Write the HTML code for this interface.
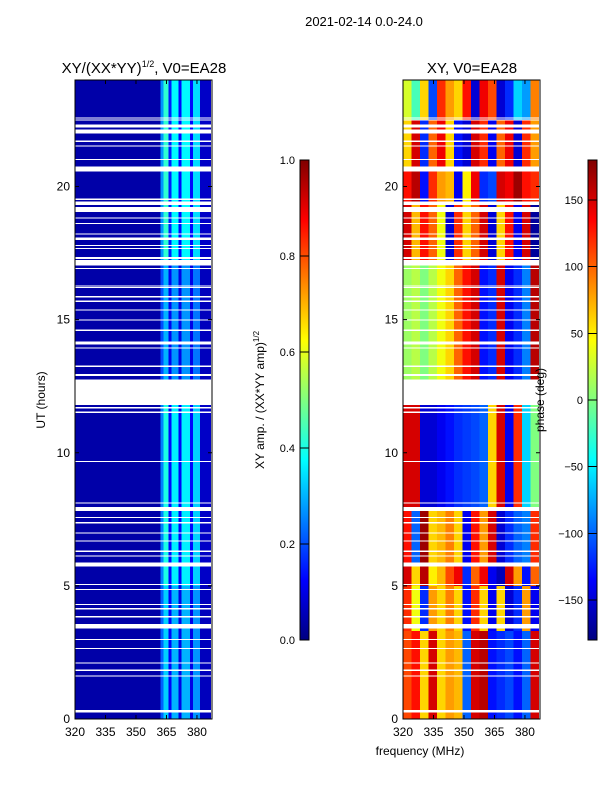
<!DOCTYPE html>
<html><head><meta charset="utf-8">
<style>
body{margin:0;background:#fff;}
svg{display:block;font-family:"Liberation Sans",sans-serif;}
</style></head>
<body>
<svg id="fig" width="600" height="800" viewBox="0 0 600 800" shape-rendering="crispEdges">
<text x="364" y="26" font-size="13" text-anchor="middle" shape-rendering="auto">2021-02-14 0.0-24.0</text>
<g id="left"></g>
<g id="right"></g>
<g id="cb1"></g>
<g id="cb2"></g>
<g id="axes" shape-rendering="auto"></g>
</svg>
<script>
// ---- data ----
const timeTicks=[0,5,10,15,20];
const freqTicks=[320,335,350,365,380];
const ampTicks=[0.0,0.2,0.4,0.6,0.8,1.0];
const phaseTicks=[-150,-100,-50,0,50,100,150];
const ampEdges=[320,362,363.5,366,367.5,371,372.5,376.5,378,381.5,387];
const ampSegStart=[0,5,11.8,12.75,17.2];
const ampSegEnd=[5,11.8,12.75,17.2,24];
const ampSegVals=[
 [0.04,0.22,0.33,0.12,0.3,0.1,0.3,0.1,0.27,0.06],
 [0.04,0.25,0.4,0.13,0.36,0.12,0.36,0.13,0.33,0.07],
 null,
 [0.04,0.2,0.3,0.11,0.27,0.1,0.27,0.1,0.24,0.06],
 [0.04,0.27,0.42,0.15,0.37,0.13,0.37,0.13,0.34,0.07]
];
const phaseEdges=[320,324.2,328.4,332.6,336.8,340.9,345.1,349.3,353.5,357.7,361.9,366.1,370.3,374.4,378.6,382.8,387];
const phaseSegStart=[0,3.3,5.0,5.8,7.9,11.8,12.75,17.2,19.3,20.6,22.5];
const phaseSegEnd=[3.3,5.0,5.8,7.9,11.8,12.75,17.2,19.3,20.6,22.5,24];
const phaseSegVals=[
 [110,130,60,150,60,80,70,-100,150,160,-130,-120,-110,-130,-100,150],
 [120,40,-120,80,60,90,60,-130,120,60,-140,60,-150,-120,80,-140],
 [150,60,160,50,70,110,140,-120,100,140,-140,-160,150,80,-130,100],
 [130,-100,170,60,70,90,60,-140,130,80,150,-150,-120,-100,-90,120],
 [150,150,-150,-150,-140,-130,-120,-115,-110,-100,60,150,-140,120,-60,0],
 null,
 [10,20,0,20,40,60,100,130,150,-130,-120,150,-140,-120,-90,160],
 [150,70,130,100,40,-150,120,60,100,150,-150,60,130,-140,150,-170],
 [130,160,-130,120,80,70,-140,50,140,-120,-110,150,140,170,130,120],
 [60,150,-120,100,140,60,-130,-150,150,120,-140,100,140,-150,120,80],
 [30,-20,60,-110,120,80,60,130,-150,140,110,-150,-120,-60,-80,90]
];
const gapStart=[0.24,1.59,1.81,2.09,2.62,2.97,3.4,3.82,4.12,4.28,4.85,5.03,5.72,6.1,6.28,6.66,6.97,7.35,7.54,7.82,8.1,9.65,11.5,11.67,12.88,13.23,13.92,14.07,14.58,14.96,15.34,15.67,15.84,16.19,16.24,16.9,17.03,17.27,17.65,17.77,17.99,18.2,18.59,18.8,19.05,19.3,19.5,20.56,21.0,21.5,21.68,22.0,22.22,22.48,22.56];
const gapEnd=  [0.34,1.63,1.85,2.13,2.66,3.01,3.57,3.86,4.16,4.32,4.89,5.07,5.88,6.14,6.32,6.7,7.01,7.39,7.58,7.97,8.14,9.69,11.54,11.71,12.95,13.27,13.96,14.17,14.62,15.0,15.38,15.71,15.88,16.23,16.28,16.94,17.24,17.36,17.69,17.81,18.09,18.24,18.63,18.84,19.23,19.43,19.54,20.75,21.04,21.54,21.72,22.15,22.33,22.52,22.6];

// ---- scales ----
const Y0=719,Y1=80;
const yS=h=>Y0-(h/24)*(Y0-Y1);
const fS=(x0)=>f=>x0+(f-320)*(137/67.4);
const xL=fS(75), xR=fS(403);
function jet(v){v=Math.max(0,Math.min(1,v));
 const c=t=>Math.round(255*Math.max(0,Math.min(1,t)));
 const r=c(Math.min(4*v-1.5,-4*v+4.5)),g=c(Math.min(4*v-0.5,-4*v+3.5)),b=c(Math.min(4*v+0.5,-4*v+2.5));
 return `rgb(${r},${g},${b})`;}
const NS="http://www.w3.org/2000/svg";
function mk(tag,attrs,parent){const e=document.createElementNS(NS,tag);for(const k in attrs)e.setAttribute(k,attrs[k]);parent.appendChild(e);return e;}

// ---- heatmaps ----
const L=document.getElementById('left'),R=document.getElementById('right');
ampSegStart.forEach((s,i)=>{const vals=ampSegVals[i];if(!vals)return;
 for(let j=0;j<vals.length;j++){
  const r=mk('rect',{x:xL(ampEdges[j]),y:yS(ampSegEnd[i]),width:xL(ampEdges[j+1])-xL(ampEdges[j]),height:yS(ampSegStart[i])-yS(ampSegEnd[i]),fill:jet(vals[j])},L);
  
  
 }});
phaseSegStart.forEach((s,i)=>{const vals=phaseSegVals[i];if(!vals)return;
 for(let j=0;j<vals.length;j++){
  const r=mk('rect',{x:xR(phaseEdges[j]),y:yS(phaseSegEnd[i]),width:xR(phaseEdges[j+1])-xR(phaseEdges[j]),height:yS(phaseSegStart[i])-yS(phaseSegEnd[i]),fill:jet((vals[j]+180)/360)},R);
  
  
 }});
gapStart.forEach((g,i)=>{
 [[L,75],[R,403]].forEach(([G,x0])=>{
  const r=mk('rect',{x:x0,y:yS(gapEnd[i]),width:137,height:Math.max(1,yS(g)-yS(gapEnd[i])),fill:'#fff'},G);
  
  
 });});

// ---- axes ----
const A=document.getElementById('axes');
[[75,'left'],[403,'right']].forEach(([x0,nm])=>{
 const f=fS(x0);
 const fr=mk('rect',{x:x0,y:80,width:137,height:639,fill:'none',stroke:'#000','stroke-width':1},A);
 
 
 timeTicks.forEach(t=>{const y=yS(t);
  mk('line',{x1:x0,x2:x0+4,y1:y,y2:y,stroke:'#000'},A);
  mk('line',{x1:x0+137,x2:x0+133,y1:y,y2:y,stroke:'#000'},A);
  const tx=mk('text',{x:x0-5,y:y+4,'font-size':12,'text-anchor':'end'},A);tx.textContent=t;
  
  
 });
 freqTicks.forEach(v=>{const x=f(v);
  mk('line',{x1:x,x2:x,y1:719,y2:715,stroke:'#000'},A);
  mk('line',{x1:x,x2:x,y1:80,y2:84,stroke:'#000'},A);
  const tx=mk('text',{x:x,y:736,'font-size':12,'text-anchor':'middle'},A);tx.textContent=v;
  
  
 });
});
function txt(s,attrs,name){const t=mk('text',attrs,A);t.innerHTML=s;return t;}
txt('XY/(XX*YY)<tspan font-size="9" dy="-6">1/2</tspan><tspan dy="6">, V0=EA28</tspan>',{x:144,y:73,'font-size':15,'text-anchor':'middle'},'left-plot-title');
txt('XY, V0=EA28',{x:472,y:73,'font-size':15,'text-anchor':'middle'},'right-plot-title');
txt('UT (hours)',{x:45,y:400,'font-size':12,'text-anchor':'middle',transform:'rotate(-90 45 400)'},'y-axis-title');
txt('frequency (MHz)',{x:420,y:755,'font-size':12,'text-anchor':'middle'},'x-axis-title');
txt('XY amp. / (XX*YY amp)<tspan font-size="8" dy="-5">1/2</tspan>',{x:264,y:400,'font-size':12,'text-anchor':'middle',transform:'rotate(-90 264 400)'},'amp-colorbar-title');
txt('phase (deg)',{x:544,y:400,'font-size':12,'text-anchor':'middle',transform:'rotate(-90 544 400)'},'phase-colorbar-title');

// ---- colorbars ----
function cbar(G,x,ticks,norm,fmt,id){
 const defs=mk('defs',{},G);const lg=mk('linearGradient',{id:id,x1:0,y1:1,x2:0,y2:0},defs);
 for(let k=0;k<=8;k++)mk('stop',{offset:k/8,'stop-color':jet(k/8)},lg);
 const r=mk('rect',{x:x,y:160,width:9,height:480,fill:`url(#${id})`,stroke:'#000','stroke-width':1},G);
 
 
 ticks.forEach(v=>{const y=640-norm(v)*480;
  mk('line',{x1:x,x2:x+9,y1:y,y2:y,stroke:'#000'},G);
  const t=mk('text',{x:x-5,y:y+4,'font-size':11,'text-anchor':'end','shape-rendering':'auto'},G);t.textContent=fmt(v);
  
  
 });}
cbar(document.getElementById('cb1'),300,ampTicks,v=>v,v=>v.toFixed(1),'g1');
cbar(document.getElementById('cb2'),588,phaseTicks,v=>(v+180)/360,v=>v<0?'\u2212'+(-v):''+v,'g2');
</script>
</body></html>
